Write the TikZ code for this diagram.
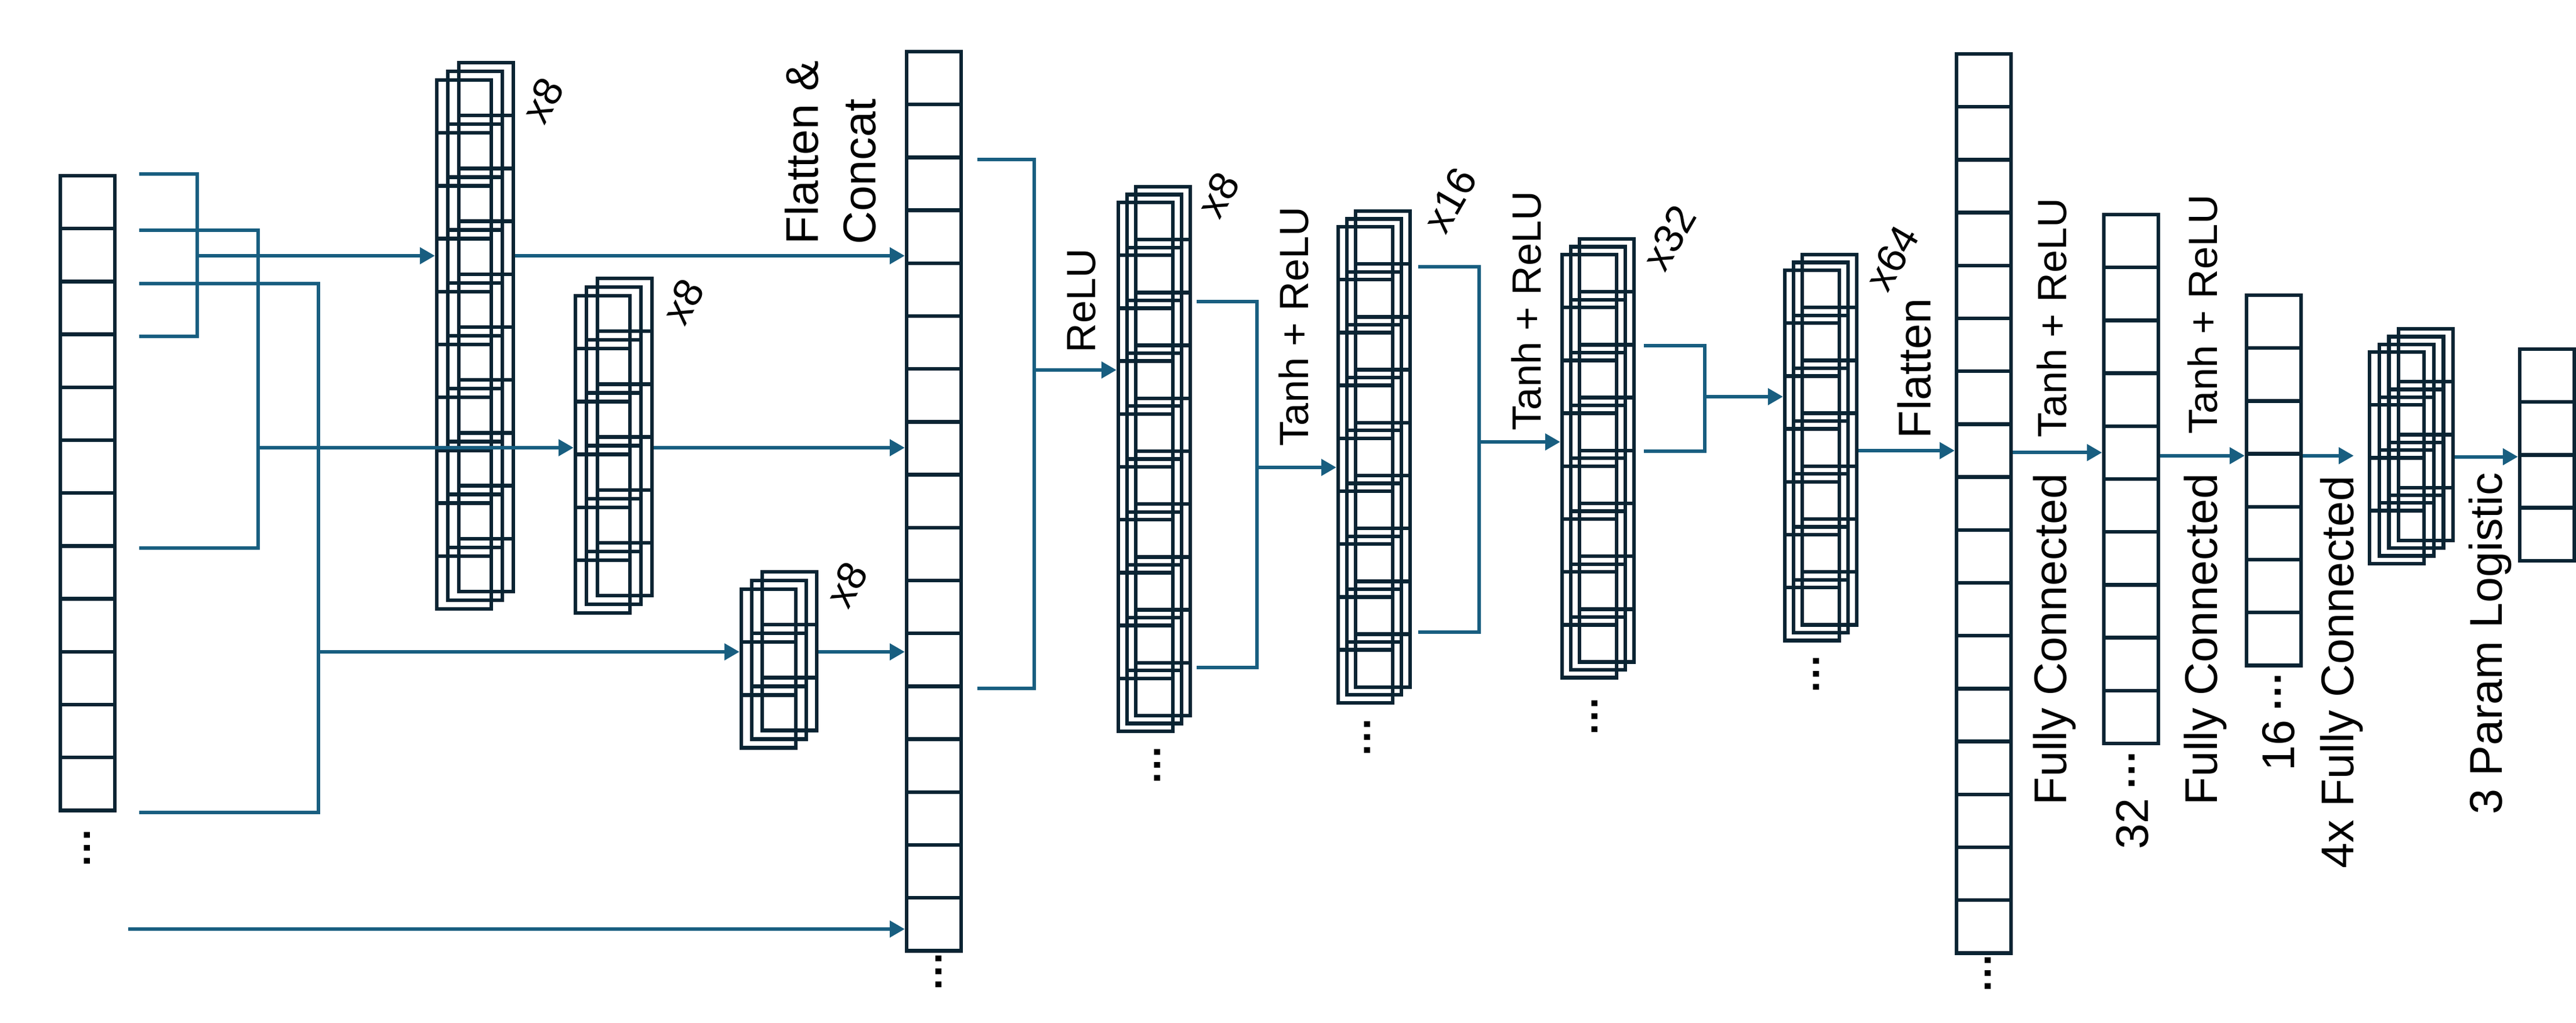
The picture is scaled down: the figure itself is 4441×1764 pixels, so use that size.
\documentclass[tikz,border=0pt]{standalone}
\usepackage{fontspec}
\setmainfont{Liberation Sans}
\usepackage{xcolor}
\usepackage{tikz}
\usetikzlibrary{arrows.meta, positioning}

\definecolor{navy}{HTML}{0A2433}
\definecolor{wire}{HTML}{185E80}

\begin{document}
\begin{tikzpicture}
  [
    x=0.01cm, y=-0.01cm,
    Cell/.style={draw=navy, line width=1.8pt, minimum width=0.94cm, minimum height=0.912cm, inner sep=0pt},
    Wire/.style={draw=wire, line width=1.7pt},
    Arrow/.style={Wire, -{Triangle[length=0.26cm, width=0.28cm]}},
    Label/.style={rotate=90, inner sep=0pt, font=\fontsize{22.5}{28.2}\selectfont},
    Small/.style={rotate=90, inner sep=0pt, font=\fontsize{20}{24}\selectfont},
    Times/.style={rotate=60, inner sep=0pt, font=\fontsize{20}{24}\selectfont},
    Dots/.style={rotate=90, inner sep=0pt, font=\fontsize{20}{24}\bfseries}
  ]
  \useasboundingbox (0,0) rectangle (4441,1764);

  % Columns
  \foreach \i in {1,...,12}
    \node[Cell] (inp-\i) at (151, {303+45.6+91.2*(\i-1)}) {};
  \foreach \i in {1,...,17}
    \node[Cell] (cat-\i) at (1610, {89+45.6+91.2*(\i-1)}) {};
  \foreach \i in {1,...,17}
    \node[Cell] (flt-\i) at (3420, {93+45.6+91.2*(\i-1)}) {};
  \foreach \i in {1,...,10}
    \node[Cell] (fcA-\i) at (3674, {370+45.6+91.2*(\i-1)}) {};
  \foreach \i in {1,...,7}
    \node[Cell] (fcB-\i) at (3920, {509+45.6+91.2*(\i-1)}) {};
  \foreach \i in {1,...,4}
    \node[Cell] (outp-\i) at (4391, {602+45.6+91.2*(\i-1)}) {};

  % Stacks (layer 0 in front)
  \foreach \ly in {2,1,0} \foreach \i in {1,...,10}
    \node[Cell] (sA\ly-\i) at ({800+19*\ly}, {138+45.6-15*\ly+91.2*(\i-1)}) {};
  \foreach \ly in {2,1,0} \foreach \i in {1,...,6}
    \node[Cell] (sB\ly-\i) at ({1039+19*\ly}, {510+45.6-15*\ly+91.2*(\i-1)}) {};
  \foreach \ly in {2,1,0} \foreach \i in {1,...,3}
    \node[Cell] (sC\ly-\i) at ({1325+18*\ly}, {1016+45.6-15*\ly+91.2*(\i-1)}) {};
  \foreach \ly in {2,1,0} \foreach \i in {1,...,10}
    \node[Cell] (sD\ly-\i) at ({1975+15*\ly}, {349+45.6-13.5*\ly+91.2*(\i-1)}) {};
  \foreach \ly in {2,1,0} \foreach \i in {1,...,9}
    \node[Cell] (sE\ly-\i) at ({2354+15*\ly}, {391+45.6-13.5*\ly+91.2*(\i-1)}) {};
  \foreach \ly in {2,1,0} \foreach \i in {1,...,8}
    \node[Cell] (sF\ly-\i) at ({2740+15*\ly}, {439+45.6-13.5*\ly+91.2*(\i-1)}) {};
  \foreach \ly in {2,1,0} \foreach \i in {1,...,7}
    \node[Cell] (sG\ly-\i) at ({3124+15*\ly}, {466+45.6-13.5*\ly+91.2*(\i-1)}) {};
  \foreach \ly in {3,2,1,0} \foreach \i in {1,...,4}
    \node[Cell] (sH\ly-\i) at ({4132+16.7*\ly}, {607+45.6-13.3*\ly+91.2*(\i-1)}) {};

  % Labels
  \node[Label, anchor=south west, align=left] (lblcat) at (1511,422) {Flatten \&\\Concat};
  \node[Small, anchor=base west] (lblrelu) at (1888,609) {ReLU};
  \node[Small, anchor=base west] (lbltr1) at (2255,770) {Tanh + ReLU};
  \node[Small, anchor=base west] (lbltr2) at (2656,743) {Tanh + ReLU};
  \node[Label, anchor=base west] (lblflat) at (3328,757) {Flatten};
  \node[Small, anchor=base west] (lbltr3) at (3562,755) {Tanh + ReLU};
  \node[Label, anchor=base west] (lblfc1) at (3562,1389) {Fully Connected};
  \node[Small, anchor=base west] (lbltr4) at (3822,749) {Tanh + ReLU};
  \node[Label, anchor=base west] (lblfc2) at (3822,1389) {Fully Connected};
  \node[Label, anchor=base west] (lbl32) at (3703,1465) {32\,{\fontsize{20}{24}\bfseries\raisebox{6.5pt}{…}}};
  \node[Label, anchor=base west] (lbl16) at (3955,1330) {16\,{\fontsize{20}{24}\bfseries\raisebox{6.5pt}{…}}};
  \node[Label, anchor=base west] (lblfc3) at (4057,1498) {4x Fully Connected};
  \node[Label, anchor=base west] (lbllog) at (4313,1405) {3 Param Logistic};

  \node[Times] (mA) at (936,173) {x8};
  \node[Times] (mB) at (1178,520) {x8};
  \node[Times] (mC) at (1460,1008) {x8};
  \node[Times] (mD) at (2100,336) {x8};
  \node[Times] (mE) at (2500,345) {x16};
  \node[Times] (mF) at (2878,410) {x32};
  \node[Times] (mG) at (3262,445) {x64};

  \node[Dots] (dinp) at (150,1462) {…};
  \node[Dots] (dcat) at (1618,1675) {…};
  \node[Dots] (dsD) at (1995,1319) {…};
  \node[Dots] (dsE) at (2357,1271) {…};
  \node[Dots] (dsF) at (2749,1235) {…};
  \node[Dots] (dsG) at (3131,1162) {…};
  \node[Dots] (dflt) at (3427,1678) {…};

  % Lines
  \coordinate (brA) at (340,441);
  \coordinate (brB) at (445,772);
  \coordinate (brC) at (549,1124);
  \path[Wire] ([xshift=0.39cm]inp-1.north east) -| (brA) |- ([xshift=0.39cm]inp-3.south east);
  \path[Wire] ([xshift=0.39cm]inp-1.south east) -| (brB) |- ([xshift=0.39cm]inp-7.south east);
  \path[Wire] ([xshift=0.39cm]inp-2.south east) -| (brC) |- ([xshift=0.39cm]inp-12.south east);
  \path[Arrow] (brA) -- (brA -| sA0-1.west);
  \path[Arrow] (brB) -- (brB -| sB0-1.west);
  \path[Arrow] (brC) -- (brC -| sC0-1.west);
  \path[Arrow] (brA -| sA2-1.east) -- (brA -| cat-1.west);
  \path[Arrow] (brB -| sB2-1.east) -- (brB -| cat-1.west);
  \path[Arrow] (brC -| sC2-1.east) -- (brC -| cat-1.west);
  \coordinate (skip) at (221,1602);
  \path[Arrow] (skip) -- (skip -| cat-1.west);

  \coordinate (brD) at (1783,638);
  \path[Wire] ([xshift=0.25cm]cat-2.south east) -| (brD) |- ([xshift=0.25cm]cat-12.south east);
  \path[Arrow] (brD) -- (brD -| sD0-1.west);

  \coordinate (eT) at (2063,520);
  \coordinate (eB) at (2063,1151);
  \coordinate (brE) at (2167,806);
  \path[Wire] (eT) -| (brE) |- (eB);
  \path[Arrow] (brE) -- (brE -| sE0-1.west);

  \coordinate (fT) at (2445,460);
  \coordinate (fB) at (2445,1090);
  \coordinate (brF) at (2550,762);
  \path[Wire] (fT) -| (brF) |- (fB);
  \path[Arrow] (brF) -- (brF -| sF0-1.west);

  \coordinate (gT) at (2834,596);
  \coordinate (gB) at (2834,778);
  \coordinate (brG) at (2939,684);
  \path[Wire] (gT) -| (brG) |- (gB);
  \path[Arrow] (brG) -- (brG -| sG0-1.west);

  \path[Arrow] (flt-8.west -| sG2-1.east) -- (flt-8.west);
  \path[Arrow] (fcA-5.west -| flt-8.east) -- (fcA-5.west);
  \path[Arrow] (fcB-3.south west -| fcA-5.east) -- (fcB-3.south west);
  \path[Arrow, shorten >=0.24cm] (fcB-3.south east) -- (fcB-3.south east -| sH0-2.west);
  \path[Arrow] (outp-2.south west -| sH3-2.east) -- (outp-2.south west);

\end{tikzpicture}
\end{document}
